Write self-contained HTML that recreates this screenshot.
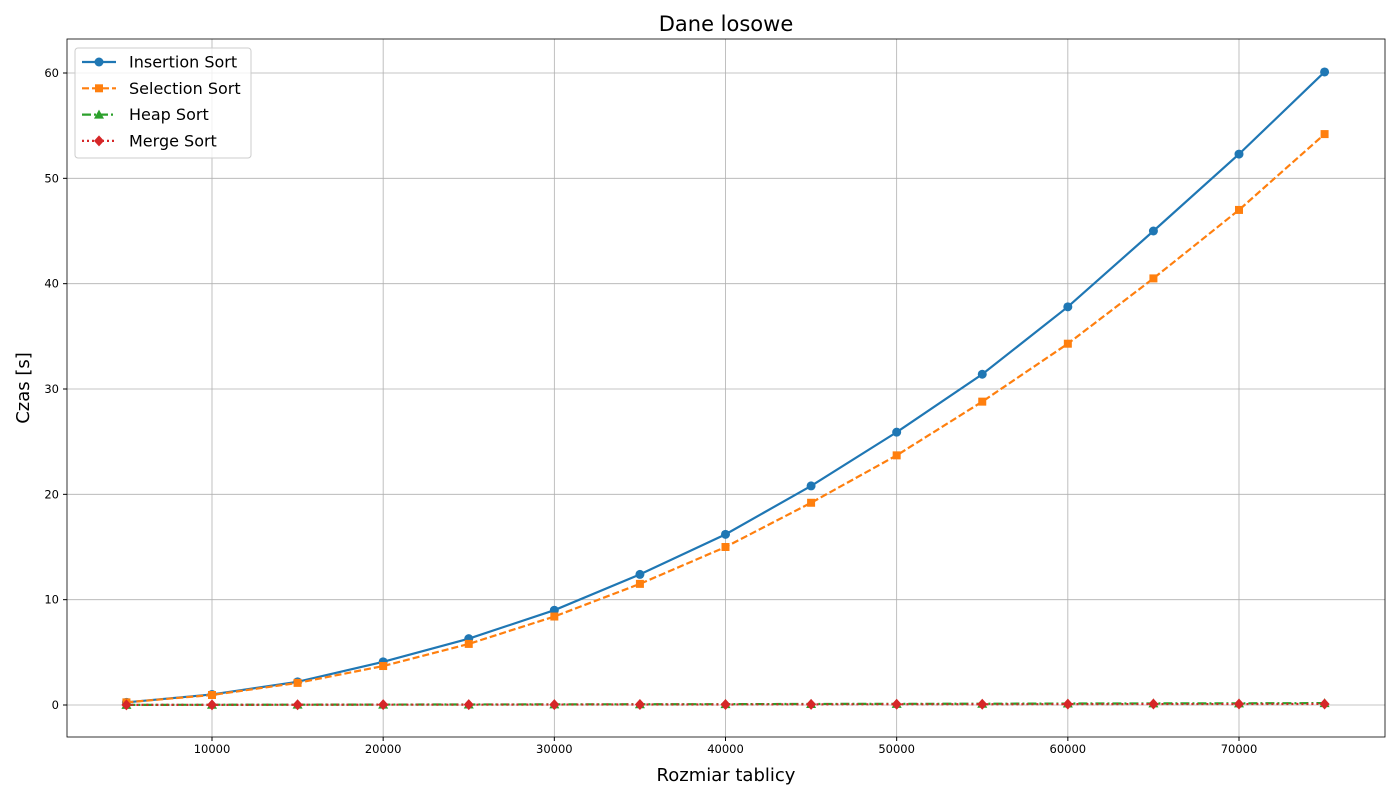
<!DOCTYPE html>
<html><head><meta charset="utf-8"><style>
body{margin:0;background:#fff;font-family:"Liberation Sans","DejaVu Sans",sans-serif}
svg text{font-family:"DejaVu Sans","Liberation Sans",sans-serif}
</style></head><body>
<svg id="chart" width="1400" height="800" xmlns="http://www.w3.org/2000/svg"></svg>
<script>
const sizes=[5000,10000,15000,20000,25000,30000,35000,40000,45000,50000,55000,60000,65000,70000,75000];
const insertionVals=[0.25,1.0,2.2,4.1,6.3,9.0,12.4,16.2,20.8,25.9,31.4,37.8,45.0,52.3,60.1];
const selectionVals=[0.25,0.95,2.1,3.7,5.8,8.4,11.5,15.0,19.2,23.7,28.8,34.3,40.5,47.0,54.2];
const heapVals=[0.01,0.02,0.03,0.04,0.05,0.06,0.07,0.08,0.1,0.11,0.12,0.14,0.15,0.16,0.18];
const mergeVals=[0.01,0.01,0.02,0.03,0.03,0.04,0.05,0.05,0.06,0.07,0.07,0.08,0.09,0.09,0.1];
const xTicks=[10000,20000,30000,40000,50000,60000,70000];
const yTicks=[0,10,20,30,40,50,60];
const seriesNames=["Insertion Sort","Selection Sort","Heap Sort","Merge Sort"];

const L=67,R=1385,T=39,B=737;
const xs=v=>212+(v-10000)*(1239-212)/60000;
const ys=v=>705-v*(705-73)/60;
const svg=document.getElementById('chart');
const NS='http://www.w3.org/2000/svg';
function mk(tag,attrs,parent){const e=document.createElementNS(NS,tag);for(const k in attrs)e.setAttribute(k,attrs[k]);(parent||svg).appendChild(e);return e;}

xTicks.forEach(t=>{
 const g=mk('line',{x1:xs(t),x2:xs(t),y1:T,y2:B,stroke:'#b0b0b0','stroke-width':0.8});
 
 mk('line',{x1:xs(t),x2:xs(t),y1:B,y2:B+4,stroke:'#000'});
 const tx=mk('text',{x:xs(t),y:B+16,'text-anchor':'middle','font-size':11.5});tx.textContent=t;
 
});
yTicks.forEach(t=>{
 const g=mk('line',{x1:L,x2:R,y1:ys(t),y2:ys(t),stroke:'#b0b0b0','stroke-width':0.8});
 
 mk('line',{x1:L-4,x2:L,y1:ys(t),y2:ys(t),stroke:'#000'});
 const tx=mk('text',{x:L-8,y:ys(t)+4,'text-anchor':'end','font-size':11.5});tx.textContent=t;
 
});
const fr=mk('rect',{x:L,y:T,width:R-L,height:B-T,fill:'none',stroke:'#000','stroke-width':0.8});


const styles=[
 {c:'#1f77b4',dash:'',m:'circle'},
 {c:'#ff7f0e',dash:'7,3',m:'square'},
 {c:'#2ca02c',dash:'9,3,2,3',m:'triangle'},
 {c:'#d62728',dash:'2,3',m:'diamond'}];
const allVals=[insertionVals,selectionVals,heapVals,mergeVals];
function marker(type,x,y,c,p){
 let e;
 if(type==='circle')e=mk('circle',{cx:x,cy:y,r:4.5,fill:c},p);
 else if(type==='square')e=mk('rect',{x:x-4,y:y-4,width:8,height:8,fill:c},p);
 else if(type==='triangle')e=mk('polygon',{points:`${x},${y-5} ${x-5},${y+4} ${x+5},${y+4}`,fill:c},p);
 else e=mk('polygon',{points:`${x},${y-5.5} ${x+5},${y} ${x},${y+5.5} ${x-5},${y}`,fill:c},p);
 return e;
}
allVals.forEach((vals,i)=>{
 const s=styles[i];
 const g=mk('g',{});
 
 
 const pts=vals.map((v,j)=>xs(sizes[j])+','+ys(v)).join(' ');
 mk('polyline',{points:pts,fill:'none',stroke:s.c,'stroke-width':2.2,'stroke-dasharray':s.dash},g);
 vals.forEach((v,j)=>{
  const m=marker(s.m,xs(sizes[j]),ys(v),s.c,g);
  
  
 });
});

const lg=mk('g',{});

mk('rect',{x:75,y:48,width:176,height:110,rx:3,fill:'#fff','fill-opacity':0.8,stroke:'#ccc'},lg);
seriesNames.forEach((n,i)=>{
 const y=62+i*26.3,s=styles[i];
 const e=mk('g',{},lg);
 
 mk('line',{x1:82,x2:116,y1:y,y2:y,stroke:s.c,'stroke-width':2.2,'stroke-dasharray':s.dash},e);
 marker(s.m,99,y,s.c,e);
 const t=mk('text',{x:129,y:y+5.5,'font-size':16},e);t.textContent=n;
});

const title=mk('text',{x:726,y:31,'text-anchor':'middle','font-size':21});title.textContent='Dane losowe';

const xl=mk('text',{x:726,y:781,'text-anchor':'middle','font-size':18});xl.textContent='Rozmiar tablicy';

const yl=mk('text',{x:29,y:388,'text-anchor':'middle','font-size':18,transform:'rotate(-90 29 388)'});yl.textContent='Czas [s]';

</script>
</body></html>
